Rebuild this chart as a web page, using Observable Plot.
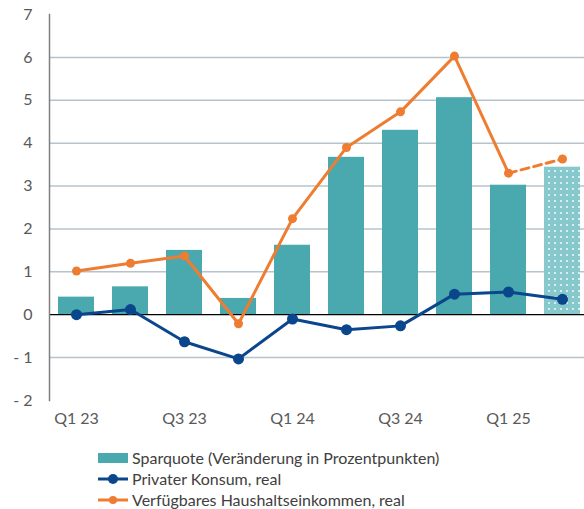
<!DOCTYPE html>
<html>
<head>
<meta charset="utf-8">
<script src="https://cdn.jsdelivr.net/npm/d3@7"></script>
<script src="https://cdn.jsdelivr.net/npm/@observablehq/plot@0.6"></script>
<style>
  body { margin: 0; background: #fff; font-family: Lato, "DejaVu Sans", sans-serif; }
  #wrap { position: relative; width: 584px; height: 509px; overflow: hidden; }
  #legend { position: absolute; left: 98px; top: 447px; font-size: 16px; color: #404040; line-height: 21px; }
  .row { display: flex; align-items: center; height: 21px; white-space: nowrap; }
  .row svg { margin-right: 4px; }
</style>
</head>
<body>
<div id="wrap">
  <div id="chart"></div>
  <div id="legend"></div>
</div>
<script>
const quarters = ["Q1 23","Q2 23","Q3 23","Q4 23","Q1 24","Q2 24","Q3 24","Q4 24","Q1 25","Q2 25"];
const sparquote = [0.41, 0.65, 1.5, 0.38, 1.62, 3.67, 4.3, 5.06, 3.02, 3.44];
const konsum = [0.0, 0.12, -0.63, -1.03, -0.1, -0.35, -0.26, 0.48, 0.53, 0.36];
const einkommen = [1.02, 1.2, 1.37, -0.21, 2.24, 3.9, 4.73, 6.03, 3.3, 3.63];
const projection = [false, false, false, false, false, false, false, false, false, true];
const xTicks = ["Q1 23","Q3 23","Q1 24","Q3 24","Q1 25"];
const yTicks = [-2, -1, 0, 1, 2, 3, 4, 5, 6, 7];
const gridTicks = [-1, 1, 2, 3, 4, 5, 6];
const seriesNames = ["Sparquote (Veränderung in Prozentpunkten)", "Privater Konsum, real", "Verfügbares Haushaltseinkommen, real"];

const TEAL = "#49a9ae", BLUE = "#0a468c", ORANGE = "#ee7d31";

const data = quarters.map((q, i) => ({q, spar: sparquote[i], konsum: konsum[i], eink: einkommen[i], proj: projection[i], i}));
const lastActual = projection.indexOf(true) - 1;

const chart = Plot.plot({
  width: 584,
  height: 435,
  marginTop: 14,
  marginBottom: 35,
  marginLeft: 49,
  marginRight: 0,
  style: {fontFamily: "Lato, sans-serif", fontSize: "16px", background: "#fff"},
  x: {domain: quarters, range: [49, 589], paddingInner: 1/3, paddingOuter: 1/6, align: 0.5},
  y: {domain: [-2, 7]},
  marks: [
    Plot.gridY(gridTicks, {stroke: "#b5c3cc", strokeOpacity: 1, strokeWidth: 1.5}),
    Plot.barY(data.filter(d => !d.proj), {x: "q", y: "spar", fill: TEAL}),
    Plot.barY(data.filter(d => d.proj), {x: "q", y: "spar", fill: "url(#dots)"}),
    Plot.ruleY([0], {stroke: "#000", strokeWidth: 1.3}),
    Plot.frame({anchor: "left", stroke: "#7f7f7f", strokeWidth: 1.5}),
    Plot.line(data, {x: "q", y: "konsum", stroke: BLUE, strokeWidth: 3}),
    Plot.dot(data, {x: "q", y: "konsum", fill: BLUE, r: 5.5}),
    Plot.line(data.filter(d => d.i <= lastActual), {x: "q", y: "eink", stroke: ORANGE, strokeWidth: 3}),
    Plot.line(data.filter(d => d.i >= lastActual), {x: "q", y: "eink", stroke: ORANGE, strokeWidth: 3, strokeDasharray: "8,5"}),
    Plot.dot(data, {x: "q", y: "eink", fill: ORANGE, r: 4.5}),
    Plot.axisX({ticks: xTicks, tickSize: 0, tickPadding: 12, fill: "#595959", label: null}),
    Plot.axisY({ticks: yTicks, tickSize: 0, tickPadding: 17, fill: "#595959", label: null,
      tickFormat: d => d < 0 ? "- " + Math.abs(d) : String(d)})
  ]
});

// dotted pattern for the projected bar
const ns = "http://www.w3.org/2000/svg";
const defs = document.createElementNS(ns, "defs");
defs.innerHTML = `<pattern id="dots" width="6" height="6" patternUnits="userSpaceOnUse">
  <rect width="6" height="6" fill="#86c8cb"/>
  <circle cx="3" cy="3" r="0.9" fill="#ffffff"/>
</pattern>`;
chart.insertBefore(defs, chart.firstChild);
chart.style.display = "block";
document.getElementById("chart").appendChild(chart);

// legend
const legend = document.getElementById("legend");
const swatches = [
  `<svg width="30" height="12"><rect x="0" y="1" width="30" height="10" fill="${TEAL}"/></svg>`,
  `<svg width="30" height="12"><line x1="0" y1="6" x2="30" y2="6" stroke="${BLUE}" stroke-width="3"/><circle cx="15" cy="6" r="5" fill="${BLUE}"/></svg>`,
  `<svg width="30" height="12"><line x1="0" y1="6" x2="30" y2="6" stroke="${ORANGE}" stroke-width="3"/><circle cx="15" cy="6" r="4" fill="${ORANGE}"/></svg>`
];
seriesNames.forEach((name, k) => {
  const row = document.createElement("div");
  row.className = "row";
  row.innerHTML = swatches[k] + `<span>${name}</span>`;
  legend.appendChild(row);
});
</script>
</body>
</html>
